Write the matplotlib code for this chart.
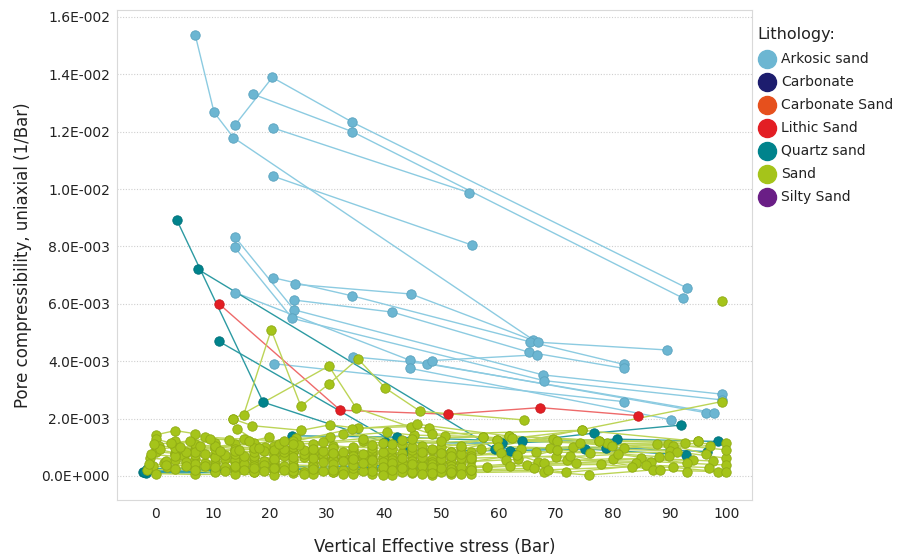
import math
import matplotlib
matplotlib.use("Agg")
import matplotlib.pyplot as plt
from matplotlib.lines import Line2D
from matplotlib.ticker import FixedLocator, FuncFormatter

# pore compressibility values below are in units of 1E-3 (1/Bar)
# stress in Bar; each inner list is one sample (points joined by a line)

arkosic_x = [
    [6.9, 10.2, 13.6, 66.1],
    [13.9, 20.4, 34.4, 93.0],
    [17.1, 34.4, 92.3],
    [20.5, 54.9],
    [20.5, 55.3],
    [13.8, 24.2, 67.8, 99.1],
    [13.8, 23.9, 68.0, 99.1],
    [13.9, 44.5, 96.4],
    [20.5, 34.3, 65.6, 81.9],
    [24.3, 44.7, 66.9, 89.5],
    [24.2, 41.4, 65.4, 81.9],
    [20.7, 81.9],
    [34.5, 47.4, 97.8],
    [44.5, 90.2],
    [48.3, 66.7],
]
arkosic_y = [
    [15.37, 12.67, 11.79, 4.74],
    [12.24, 13.89, 12.33, 6.55],
    [13.30, 12.00, 6.20],
    [12.13, 9.87],
    [10.45, 8.05],
    [8.34, 5.79, 3.52, 2.85],
    [7.97, 5.49, 3.32, 2.65],
    [6.39, 4.03, 2.20],
    [6.91, 6.28, 4.67, 3.89],
    [6.68, 6.34, 4.66, 4.39],
    [6.13, 5.71, 4.31, 3.75],
    [3.91, 2.59],
    [4.15, 3.91, 2.20],
    [3.75, 1.96],
    [4.02, 4.22],
]

lithic_x = [[11.05, 32.3, 51.1, 67.3, 84.5]]
lithic_y = [[6.00, 2.29, 2.15, 2.38, 2.10]]

quartz_x = [
    [3.7, 18.8, 40.2, 60.7, 80.8, 98.5],
    [7.4, 59.4, 78.8, 96.5],
    [11.05, 44.3, 62.1, 75.1, 92.8],
    [23.8, 42.2, 64.2, 76.7, 91.9],
    [-2.2, 49.2],
    [-1.7, 49.8],
    [-1.2, 48.8],
    [-2.0, 10.3, 24.1, 37.9, 49.5],
    [-1.5, 48.5],
]
quartz_y = [
    [8.91, 2.57, 1.17, 1.14, 1.28, 1.20],
    [7.20, 0.94, 0.99, 0.85],
    [4.69, 0.88, 0.88, 0.94, 0.73],
    [1.40, 1.35, 1.20, 1.49, 1.77],
    [0.15, 0.27],
    [0.09, 0.21],
    [0.20, 0.33],
    [0.12, 0.16, 0.20, 0.24, 0.30],
    [0.25, 0.38],
]

sand_x = [
    [0, 3.4, 6.9, 10.3],
    [0, 6.9, 13.8, 20.7, 27.6, 34.5, 41.4],
    [0, 3.4, 10.3, 17.2, 24.6, 30.5, 40.4, 45.2, 50.7, 57.3],
    [13.6, 16.9, 25.5, 30.5, 35.4, 44.7, 47.9, 59.8, 74.7],
    [14.3, 19.1, 24.1, 34.3, 45.8, 61.8, 77.6, 95.0],
    [-1.0, 3.4, 6.9, 10.3, 13.8, 17.2, 20.7, 24.1, 27.6],
    [-0.5, 2.0, 6.9, 10.3, 13.8, 17.2, 20.7, 24.1, 27.6, 31.0, 34.5],
    [0, 3.4, 6.9, 10.3, 13.8, 17.2, 20.7],
    [0.5, 6.9, 13.8, 20.7, 27.6, 34.5, 41.4, 48.3, 55.2],
    [-1.5, 3.4, 10.3, 17.2, 24.1, 31.0, 37.9, 44.8, 51.7],
    [1.5, 6.9, 10.3, 13.8, 20.7, 27.6, 34.5, 41.4, 48.3],
    [3.4, 6.9, 13.8, 17.2, 24.1, 31.0, 37.9, 44.8],
    [0, 6.9, 13.8, 20.7, 27.6, 34.5, 41.4, 48.3, 55.2],
    [5.0, 10.3, 17.2, 24.1, 31.0, 37.9, 44.8, 51.7],
    [-0.8, 3.4, 6.9, 13.8, 20.7, 27.6, 34.5],
    [10.3, 13.8, 17.2, 20.7, 24.1, 27.6, 31.0, 34.5, 37.9],
    [13.8, 17.2, 20.7, 24.1, 27.6, 31.0, 34.5, 37.9, 41.4, 44.8, 48.3, 51.7, 55.2],
    [20.7, 24.1, 27.6, 31.0, 34.5, 37.9, 41.4, 44.8, 48.3, 51.7],
    [27.6, 31.0, 34.5, 37.9, 41.4, 44.8, 48.3, 51.7, 55.2],
    [31.0, 34.5, 37.9, 41.4, 44.8, 48.3, 51.7, 55.2],
    [17.2, 24.1, 31.0, 37.9, 44.8, 51.7],
    [3.4, 10.3, 17.2, 24.1, 31.0, 37.9, 44.8],
    [6.9, 10.3, 13.8, 17.2, 20.7, 24.1, 27.6, 31.0],
    [1.7, 5.2, 8.6, 12.1, 15.5, 19.0, 22.4, 25.9, 29.3, 32.8],
    [-1.2, 1.7, 5.2, 8.6, 12.1, 15.5, 19.0, 22.4],
    [5.2, 8.6, 12.1, 15.5, 19.0, 22.4, 25.9, 29.3, 32.8, 36.2, 39.7],
    [12.1, 15.5, 19.0, 22.4, 25.9, 29.3, 32.8, 36.2, 39.7, 43.1, 46.6, 50.0, 53.4],
    [22.4, 25.9, 29.3, 32.8, 36.2, 39.7, 43.1, 46.6, 50.0, 53.4],
    [29.3, 32.8, 36.2, 39.7, 43.1, 46.6, 50.0, 53.4],
    [36.2, 39.7, 43.1, 46.6, 50.0, 53.4, 56.9],
    [0.8, 4.2, 7.7, 11.2, 14.6, 18.1, 21.5, 25.0],
    [39.7, 43.1, 46.6, 50.0, 53.4, 67.0, 80.0, 94.0],
    [25.9, 32.8, 39.7, 46.6, 53.4],
    [8.6, 15.5, 22.4, 29.3, 36.2, 43.1, 50.0],
    [43.1, 46.6, 50.0, 53.4, 64.0, 73.0, 82.0, 97.0],
    [46.6, 50.0, 53.4, 70.0, 81.0, 93.0],
    [32.8, 53.4, 69.5, 79.0, 99.8],
    [-0.3, 2.6, 6.0, 9.5, 12.9, 16.4, 19.8],
    [58.0, 73.5, 85.0, 97.5],
    [15.4, 20.2, 25.4, 30.4, 35.4, 40.2, 46.3, 64.5],
    [13.5, 30.3, 35.1, 48.3, 74.7, 95.0],
    [24.1, 44.8, 57.3, 70.3, 87.7, 99.8],
    [27.6, 41.4, 59.8, 74.3, 89.7, 99.8],
    [31.0, 48.3, 61.8, 77.6, 92.6],
    [34.5, 51.7, 62.4, 79.9, 90.5, 96.3],
    [37.9, 55.2, 60.0, 69.0, 90.0],
    [41.4, 60.5, 66.5, 76.0, 91.2],
    [44.8, 61.3, 63.5, 70.3, 88.2],
    [48.3, 63.3, 68.0, 84.0, 89.8],
    [51.7, 65.0, 72.0, 86.7, 99.8],
    [55.2, 66.2, 71.8, 85.8, 96.8],
    [48.3, 68.0, 75.8, 87.0, 98.5],
    [51.7, 68.6, 83.3, 90.6, 99.8],
    [41.4, 62.0, 78.0, 93.0],
    [51.7, 99.1],
    [34.5, 55.2, 72.5, 88.3],
    [99.1],
]
sand_y = [
    [1.43, 1.58, 1.47, 1.16],
    [1.28, 0.94, 1.10, 1.05, 0.92, 0.82, 0.70],
    [0.94, 0.80, 1.00, 1.13, 1.31, 1.35, 1.52, 1.42, 1.40, 1.36],
    [1.98, 1.75, 1.59, 1.78, 1.66, 1.72, 1.66, 1.25, 1.59],
    [1.63, 1.02, 1.20, 1.64, 1.80, 1.39, 1.23, 1.20],
    [0.62, 0.55, 0.58, 0.50, 0.47, 0.45, 0.41, 0.38, 0.36],
    [0.35, 0.30, 0.28, 0.26, 0.25, 0.22, 0.20, 0.19, 0.18, 0.16, 0.15],
    [0.85, 0.78, 0.72, 0.70, 0.66, 0.62, 0.60],
    [1.05, 0.92, 0.88, 0.80, 0.76, 0.70, 0.66, 0.60, 0.55],
    [0.20, 0.25, 0.12, 0.15, 0.10, 0.12, 0.08, 0.10, 0.07],
    [0.45, 0.40, 0.38, 0.55, 0.50, 0.46, 0.44, 0.40, 0.37],
    [1.20, 1.10, 0.95, 0.92, 0.85, 0.80, 0.78, 0.72],
    [0.08, 0.05, 0.06, 0.04, 0.06, 0.05, 0.04, 0.03, 0.05],
    [0.70, 0.65, 0.68, 0.55, 0.58, 0.52, 0.48, 0.45],
    [0.75, 0.68, 0.84, 0.76, 0.72, 0.65, 0.60],
    [0.95, 0.88, 0.82, 0.90, 0.85, 0.80, 0.78, 0.92, 0.86],
    [0.30, 0.35, 0.32, 0.28, 0.33, 0.30, 0.27, 0.25, 0.28, 0.24, 0.22, 0.25, 0.20],
    [0.60, 0.65, 0.62, 0.55, 0.60, 0.58, 0.55, 0.52, 0.50, 0.48],
    [1.10, 1.05, 1.00, 0.98, 0.95, 0.90, 0.92, 0.85, 0.82],
    [0.40, 0.38, 0.42, 0.36, 0.35, 0.40, 0.33, 0.30],
    [0.12, 0.18, 0.14, 0.16, 0.12, 0.15],
    [0.98, 1.05, 0.98, 1.02, 0.96, 1.06, 1.00],
    [0.22, 0.30, 0.34, 0.28, 0.26, 0.32, 0.25, 0.22],
    [0.52, 0.48, 0.45, 0.60, 0.56, 0.52, 0.70, 0.66, 0.62, 0.58],
    [0.42, 0.38, 0.36, 0.33, 0.30, 0.41, 0.38, 0.35],
    [0.82, 0.78, 0.74, 0.70, 0.86, 0.82, 0.78, 0.74, 0.70, 0.66, 0.62],
    [0.18, 0.22, 0.16, 0.20, 0.14, 0.18, 0.22, 0.17, 0.21, 0.15, 0.19, 0.14, 0.18],
    [0.95, 0.90, 0.86, 0.82, 0.78, 0.84, 0.80, 0.76, 0.72, 0.68],
    [0.48, 0.52, 0.46, 0.50, 0.45, 0.55, 0.50, 0.46],
    [1.20, 1.15, 1.10, 1.05, 1.00, 0.98, 0.94],
    [0.95, 1.00, 1.05, 0.88, 0.92, 0.96, 1.12, 1.08],
    [0.30, 0.28, 0.33, 0.26, 0.30, 0.48, 0.60, 0.55],
    [0.05, 0.08, 0.04, 0.07, 0.05],
    [1.35, 1.28, 1.22, 1.18, 1.30, 1.25, 1.20],
    [0.62, 0.65, 0.60, 0.64, 0.95, 1.02, 0.98, 1.05],
    [0.85, 0.80, 0.78, 0.65, 0.75, 0.45],
    [1.45, 1.05, 1.30, 1.15, 0.62],
    [1.10, 1.15, 1.22, 1.30, 1.25, 1.20, 1.35],
    [0.30, 0.45, 0.62, 0.52],
    [2.14, 5.09, 2.43, 3.22, 4.08, 3.06, 2.25, 1.95],
    [1.97, 3.83, 2.36, 1.45, 1.59, 1.20],
    [1.10, 1.30, 1.36, 1.20, 1.10, 1.14],
    [0.95, 1.10, 1.25, 1.14, 1.10, 0.91],
    [0.80, 0.95, 1.39, 1.23, 1.14],
    [0.70, 0.85, 1.32, 1.05, 1.05, 0.77],
    [0.55, 0.70, 1.02, 0.98, 0.88],
    [0.45, 0.79, 0.85, 0.80, 0.83],
    [0.40, 0.56, 0.58, 0.91, 0.67],
    [0.30, 0.73, 0.44, 0.46, 0.70],
    [0.25, 0.38, 0.55, 0.50, 0.38],
    [0.20, 0.27, 0.12, 0.38, 0.29],
    [0.10, 0.15, 0.03, 0.21, 0.15],
    [0.15, 0.21, 0.32, 0.30, 0.12],
    [0.20, 0.35, 0.40, 0.15],
    [0.70, 2.59],
    [0.60, 0.62, 0.70, 0.19],
    [6.10],
]

lithologies = ["Arkosic sand", "Carbonate", "Carbonate Sand", "Lithic Sand",
               "Quartz sand", "Sand", "Silty Sand"]
marker_colors = ["#6cb6d2", "#1d1d6e", "#e6501d", "#e31e24",
                 "#00838c", "#a5c41a", "#6a1e86"]

fig = plt.figure(figsize=(8.97, 5.6), dpi=100)
ax = fig.add_axes([117 / 897, 60 / 560, 635 / 897, 490 / 560])


def draw(xs, ys, line_color, face, edge):
    for x, y in zip(xs, ys):
        yy = [v * 1e-3 for v in y]
        ax.plot(x, yy, color=line_color, lw=1.0, zorder=2)
        ax.plot(x, yy, ls="none", marker="o", ms=6.8, mfc=face, mec=edge,
                mew=0.6, zorder=3)


draw(arkosic_x, arkosic_y, "#8ccbe1", "#6cb6d2", "#5aa3bf")
draw(lithic_x, lithic_y, "#ee6a6a", "#e31e24", "#c81a1f")
draw(quartz_x, quartz_y, "#2c9aa2", "#00838c", "#00717a")
draw(sand_x, sand_y, "#bcd456", "#a5c41a", "#8fab14")

ax.set_xlim(-6.8, 104.4)
ax.set_ylim(-0.84e-3, 16.24e-3)
ax.set_xticks(range(0, 101, 10))
ax.yaxis.set_major_locator(FixedLocator([i * 0.002 for i in range(9)]))


def sci(v, pos):
    if abs(v) < 1e-12:
        return "0.0E+000"
    e = math.floor(math.log10(abs(v)) + 1e-9)
    m = v / 10 ** e
    return f"{m:.1f}E{e:+04d}"


ax.yaxis.set_major_formatter(FuncFormatter(sci))
ax.tick_params(length=0, labelsize=10, colors="#222222", pad=5)
ax.grid(axis="y", color="#cfcfcf", ls=(0, (1, 1.5)), lw=0.8)
ax.set_axisbelow(True)
for s in ax.spines.values():
    s.set_color("#d9d9d9")
ax.set_xlabel("Vertical Effective stress (Bar)", fontsize=12, labelpad=12,
              color="#222222")
ax.set_ylabel("Pore compressibility, uniaxial (1/Bar)", fontsize=12,
              labelpad=7, color="#222222")

# legend drawn by hand on the right
fig.text(757 / 897, 1 - 35 / 560, "Lithology:", fontsize=11.5, va="center",
         color="#222222")
for i, (name, col) in enumerate(zip(lithologies, marker_colors)):
    yc = 1 - (59 + 23 * i) / 560
    fig.add_artist(Line2D([767 / 897], [yc], marker="o", ms=13, mfc=col,
                          mec=col, ls="none", transform=fig.transFigure))
    fig.text(781 / 897, yc, name, fontsize=10, va="center", color="#222222")

fig.savefig("out.png", dpi=100)
